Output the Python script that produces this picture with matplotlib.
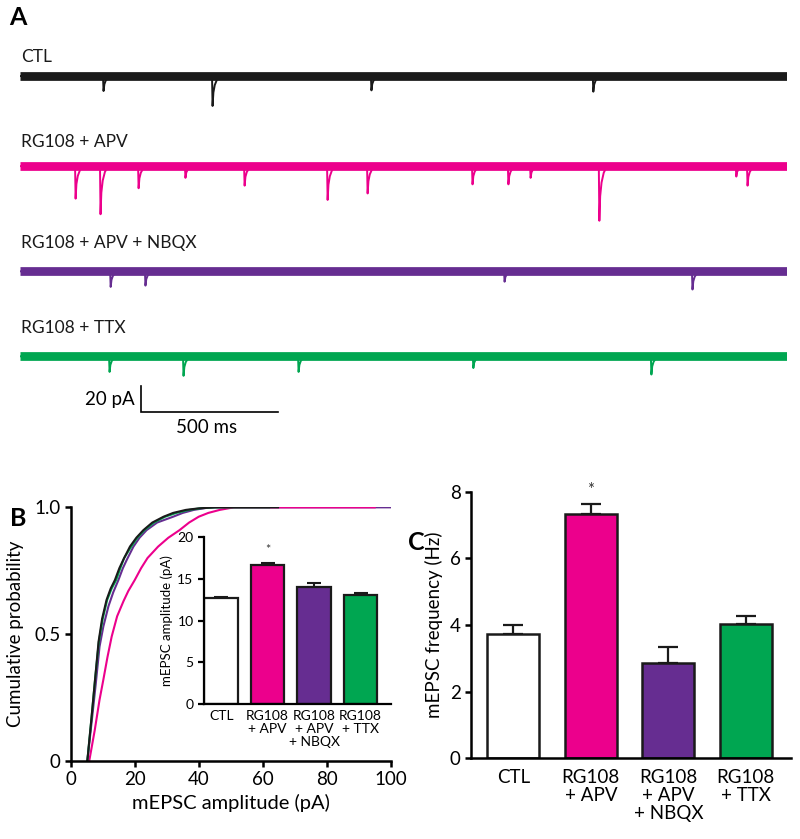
import matplotlib
matplotlib.use("Agg")
import matplotlib.pyplot as plt
import numpy as np

plt.rcParams['font.family'] = ['Lato', 'DejaVu Sans']

# ---------------- data ----------------
conditions = ["CTL", "RG108 + APV", "RG108 + APV + NBQX", "RG108 + TTX"]
bar_labels = ["CTL", "RG108\n+ APV", "RG108\n+ APV\n+ NBQX", "RG108\n+ TTX"]
colors = ["#1a1a1a", "#EC008C", "#662D91", "#00A651"]
bar_faces = ["white", "#EC008C", "#662D91", "#00A651"]

trace_duration = 2800  # ms

# mEPSC events: times (ms) and amplitudes (pA)
ctl_times = [303, 701, 1281, 2091]
ctl_amps = [11.5, 23, 11, 12]
apv_times = [201, 292, 431, 602, 818, 1121, 1267, 1650, 1781, 1862, 2113, 2613, 2654]
apv_amps = [25, 37, 17, 9, 15, 26, 21, 14, 14, 9, 42, 8, 15]
nbqx_times = [329, 456, 1767, 2453]
nbqx_amps = [12, 11, 8, 14]
ttx_times = [325, 595, 1015, 1653, 2303]
ttx_amps = [12, 15, 12, 9, 14]

# cumulative distributions (amplitude pA, cumulative probability)
cdf_ctl_x = [5.2, 6.5, 7.6, 8.7, 9.8, 11.2, 12.5, 13.8, 15.2, 16.5, 18.5, 20.5,
             22.7, 25.5, 29, 32, 36, 40, 45, 64.8]
cdf_ctl_y = [0.0, 0.17, 0.32, 0.47, 0.56, 0.635, 0.68, 0.713, 0.76, 0.795, 0.845,
             0.88, 0.91, 0.94, 0.963, 0.978, 0.99, 0.996, 1.0, 1.0]
cdf_apv_x = [5.8, 7.5, 9.0, 10.2, 11.5, 12.8, 14.5, 16.5, 18, 20, 22, 24, 27.3,
             30.5, 34, 37, 40, 43, 46.6, 51, 95]
cdf_apv_y = [0.0, 0.12, 0.24, 0.32, 0.41, 0.49, 0.57, 0.63, 0.67, 0.713, 0.76,
             0.8, 0.845, 0.88, 0.91, 0.94, 0.963, 0.978, 0.99, 1.0, 1.0]
cdf_nbqx_x = [5.2, 6.6, 7.8, 9.0, 10.2, 11.8, 13.3, 14.9, 16.3, 17.6, 19.6, 21.5,
              23.7, 27, 32, 35, 38.5, 42.5, 46, 100]
cdf_nbqx_y = [0.0, 0.16, 0.3, 0.45, 0.53, 0.61, 0.665, 0.713, 0.76, 0.795, 0.845,
              0.88, 0.91, 0.94, 0.963, 0.978, 0.99, 0.998, 1.0, 1.0]
cdf_ttx_x = [5.2, 6.5, 7.6, 8.8, 10.0, 11.4, 12.8, 14.2, 15.5, 16.7, 18.9, 20.8,
             23, 26, 29.5, 33, 37, 41, 45, 62]
cdf_ttx_y = [0.0, 0.17, 0.32, 0.47, 0.56, 0.635, 0.68, 0.713, 0.76, 0.8, 0.845,
             0.88, 0.91, 0.94, 0.963, 0.978, 0.99, 0.997, 1.0, 1.0]

amp_mean = [12.65, 16.6, 14.05, 13.1]
amp_sem = [0.2, 0.25, 0.45, 0.2]

freq_mean = [3.73, 7.34, 2.86, 4.03]
freq_sem = [0.27, 0.28, 0.47, 0.24]

# ---------------- figure ----------------
fig = plt.figure(figsize=(8.0, 8.39), dpi=100)

# ---- Panel A: traces ----
axA = fig.add_axes([0.025, 0.4994, 0.95875, 0.4648])
axA.set_xlim(0, trace_duration)
axA.set_ylim(-300, 0)
axA.axis("off")

offsets = [-35.4, -104.7, -185.6, -251.0]
label_y = [-20.8, -86.2, -164.0, -229.4]
events = [(ctl_times, ctl_amps), (apv_times, apv_amps),
          (nbqx_times, nbqx_amps), (ttx_times, ttx_amps)]
kern_t = np.array([0, 2, 5, 10, 18, 30])
kern_s = np.array([0, -1, -0.55, -0.3, -0.12, 0])

for name, col, off, ly, (tt, aa) in zip(conditions, colors, offsets, label_y, events):
    axA.plot([0, trace_duration], [off, off], color=col, lw=6.3,
             solid_capstyle="butt")
    xs, ys = [0.0], [off]
    for t, a in zip(tt, aa):
        xs.extend(list(t + kern_t))
        ys.extend(list(off + a * kern_s))
    xs.append(trace_duration)
    ys.append(off)
    axA.plot(xs, ys, color=col, lw=1.4)
    axA.text(3, ly, name, fontsize=12.5, ha="left", va="center", color="#1a1a1a")

# scale bar
sb_x, sb_y = 442, -294
axA.plot([sb_x, sb_x, sb_x + 500], [sb_y + 20, sb_y, sb_y], color="black",
         lw=1.2, clip_on=False, solid_joinstyle="miter")
axA.text(sb_x - 22, sb_y + 10, "20 pA", fontsize=13.5, ha="right", va="center")
axA.text(sb_x + 240, sb_y - 12, "500 ms", fontsize=13.5, ha="center", va="center",
         clip_on=False)

fig.text(0.012, 0.979, "A", fontsize=18, fontweight="bold", va="center")
fig.text(0.012, 0.382, "B", fontsize=18, fontweight="bold", va="center")
fig.text(0.510, 0.353, "C", fontsize=18, fontweight="bold", va="center")

def style_axes(ax, lw=1.8, labsize=13.5):
    for s in ["top", "right"]:
        ax.spines[s].set_visible(False)
    for s in ["left", "bottom"]:
        ax.spines[s].set_linewidth(lw)
    ax.tick_params(direction="out", length=4, width=lw, labelsize=labsize)

# ---- Panel B ----
axB = fig.add_axes([0.0884, 0.0933, 0.4, 0.302])
axB.plot(cdf_nbqx_x, cdf_nbqx_y, color=colors[2], lw=1.5)
axB.plot(cdf_apv_x, cdf_apv_y, color=colors[1], lw=1.5)
axB.plot(cdf_ttx_x, cdf_ttx_y, color=colors[3], lw=1.5)
axB.plot(cdf_ctl_x, cdf_ctl_y, color=colors[0], lw=1.5)
axB.set_xlim(0, 100)
axB.set_ylim(0, 1.0)
axB.set_xticks([0, 20, 40, 60, 80, 100])
axB.set_yticks([0, 0.5, 1.0])
axB.set_yticklabels(["0", "0.5", "1.0"])
style_axes(axB)
axB.set_xlabel("mEPSC amplitude (pA)", fontsize=14.5, labelpad=4)
axB.set_ylabel("Cumulative probability", fontsize=13.5, labelpad=7)

# inset
axI = fig.add_axes([0.255, 0.1605, 0.2334, 0.1998])
xi = np.arange(len(amp_mean))
axI.bar(xi, amp_mean, width=0.72, color=bar_faces, edgecolor="#1a1a1a",
        linewidth=1.6, zorder=2)
axI.errorbar(xi, amp_mean, yerr=[np.zeros(len(amp_sem)), amp_sem], fmt="none",
             ecolor="#1a1a1a", elinewidth=1.5, capsize=5, capthick=1.5, zorder=1)
axI.set_xlim(-0.37, 3.65)
axI.set_ylim(0, 20)
axI.set_yticks([0, 5, 10, 15, 20])
axI.set_xticks(xi)
axI.set_xticklabels(bar_labels, fontsize=8.4, linespacing=1.1)
style_axes(axI, lw=1.6, labsize=10)
axI.tick_params(axis="x", length=0, pad=4)
axI.set_ylabel("mEPSC amplitude (pA)", fontsize=9.5, labelpad=3)
axI.text(1, amp_mean[1] + amp_sem[1] + 0.9, "*", ha="center", va="bottom",
         fontsize=9, color="#333333")

# ---- Panel C ----
axC = fig.add_axes([0.5888, 0.0962, 0.3996, 0.3177])
xc = np.arange(len(freq_mean))
axC.bar(xc, freq_mean, width=0.67, color=bar_faces, edgecolor="#1a1a1a",
        linewidth=1.8, zorder=2)
axC.errorbar(xc, freq_mean, yerr=[np.zeros(len(freq_sem)), freq_sem], fmt="none",
             ecolor="#1a1a1a", elinewidth=1.6, capsize=7, capthick=1.6, zorder=1)
axC.set_xlim(-0.546, 3.58)
axC.set_ylim(0, 8)
axC.set_yticks([0, 2, 4, 6, 8])
axC.set_xticks(xc)
axC.set_xticklabels(bar_labels, fontsize=14, linespacing=1.05)
style_axes(axC)
axC.tick_params(axis="x", length=0, pad=8)
axC.set_ylabel("mEPSC frequency (Hz)", fontsize=13.5, labelpad=5)
axC.text(1, freq_mean[1] + freq_sem[1] + 0.2, "*", ha="center", va="bottom",
         fontsize=12, color="#333333")

fig.savefig("out.png", dpi=100)
